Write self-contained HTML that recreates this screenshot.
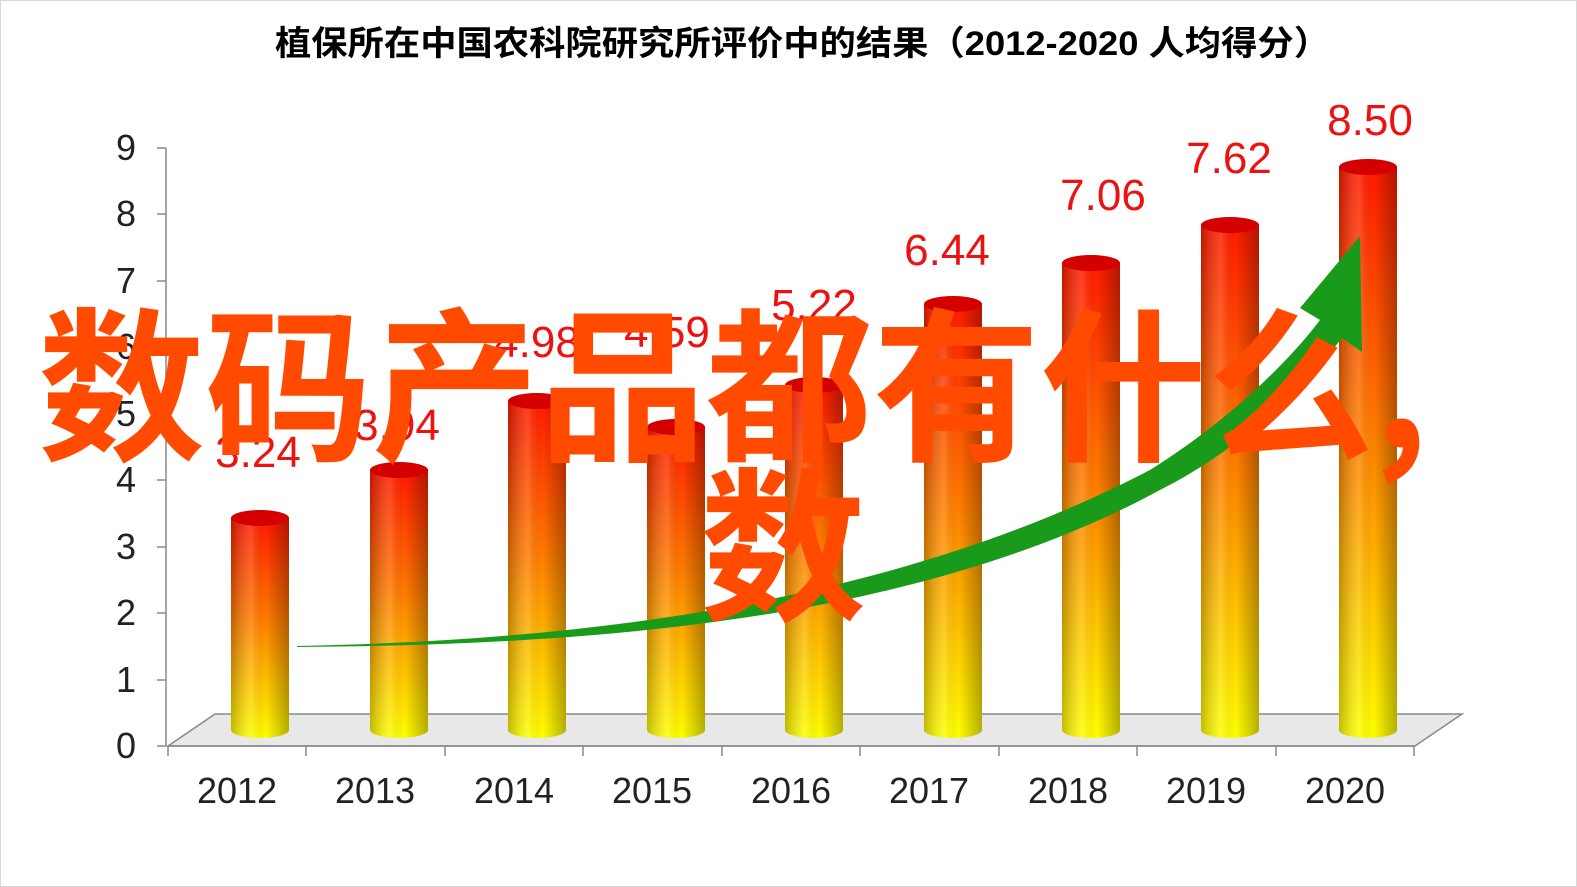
<!DOCTYPE html>
<html><head><meta charset="utf-8"><style>
body{margin:0;background:#fff;}
svg{display:block}
</style></head><body>
<svg width="1577" height="887" viewBox="0 0 1577 887" xmlns="http://www.w3.org/2000/svg">
<defs>
<linearGradient id="v" x1="0" y1="0" x2="0" y2="1">
<stop offset="0" stop-color="#ff1a00"/><stop offset="0.45" stop-color="#ff7a00"/><stop offset="1" stop-color="#ffff00"/>
</linearGradient>
<linearGradient id="h" x1="0" y1="0" x2="1" y2="0">
<stop offset="0" stop-color="#000" stop-opacity="0.25"/><stop offset="0.35" stop-color="#fff" stop-opacity="0.15"/><stop offset="0.6" stop-color="#000" stop-opacity="0"/><stop offset="1" stop-color="#000" stop-opacity="0.3"/>
</linearGradient>
</defs>
<rect x="0.5" y="0.5" width="1576" height="886" fill="#fff" stroke="#d9d9d9"/>
<text x="275" y="55" textLength="1055" lengthAdjust="spacingAndGlyphs" font-family="Liberation Sans, Noto Sans CJK SC, sans-serif" font-size="34" font-weight="bold" fill="#000">植保所在中国农科院研究所评价中的结果（2012-2020  人均得分）</text>
<polygon points="168,746 1415,746 1462,714 215,714" fill="#e8e8e8" stroke="#888" stroke-width="1.5"/>
<line x1="166" y1="148" x2="166" y2="746" stroke="#888" stroke-width="1.5"/>
<g stroke="#888" stroke-width="1.5">
<line x1="157" y1="148" x2="166" y2="148"/><line x1="157" y1="214" x2="166" y2="214"/><line x1="157" y1="281" x2="166" y2="281"/><line x1="157" y1="347" x2="166" y2="347"/><line x1="157" y1="414" x2="166" y2="414"/><line x1="157" y1="480" x2="166" y2="480"/><line x1="157" y1="547" x2="166" y2="547"/><line x1="157" y1="613" x2="166" y2="613"/><line x1="157" y1="680" x2="166" y2="680"/><line x1="157" y1="746" x2="166" y2="746"/>
<line x1="168" y1="746" x2="1415" y2="746"/>
<line x1="168" y1="746" x2="168" y2="756"/><line x1="306" y1="746" x2="306" y2="756"/><line x1="445" y1="746" x2="445" y2="756"/><line x1="583" y1="746" x2="583" y2="756"/><line x1="722" y1="746" x2="722" y2="756"/><line x1="860" y1="746" x2="860" y2="756"/><line x1="999" y1="746" x2="999" y2="756"/><line x1="1137" y1="746" x2="1137" y2="756"/><line x1="1276" y1="746" x2="1276" y2="756"/><line x1="1414" y1="746" x2="1414" y2="756"/>
</g>
<g font-family="Liberation Sans, sans-serif" font-size="36" fill="#222" text-anchor="end">
<text x="136" y="160">9</text><text x="136" y="226">8</text><text x="136" y="293">7</text><text x="136" y="359">6</text><text x="136" y="426">5</text><text x="136" y="492">4</text><text x="136" y="559">3</text><text x="136" y="625">2</text><text x="136" y="692">1</text><text x="136" y="758">0</text>
</g>
<g font-family="Liberation Sans, sans-serif" font-size="36" fill="#222" text-anchor="middle">
<text x="237" y="803">2012</text><text x="375" y="803">2013</text><text x="514" y="803">2014</text><text x="652" y="803">2015</text><text x="791" y="803">2016</text><text x="929" y="803">2017</text><text x="1068" y="803">2018</text><text x="1206" y="803">2019</text><text x="1345" y="803">2020</text>
</g>
<g>
<path d="M231,518 L231,730 A29,8 0 0 0 289,730 L289,518 Z" fill="url(#v)"/><path d="M231,518 L231,730 A29,8 0 0 0 289,730 L289,518 Z" fill="url(#h)"/><ellipse cx="260" cy="518" rx="29" ry="8" fill="#d40000"/>
<path d="M370,470 L370,730 A29,8 0 0 0 428,730 L428,470 Z" fill="url(#v)"/><path d="M370,470 L370,730 A29,8 0 0 0 428,730 L428,470 Z" fill="url(#h)"/><ellipse cx="399" cy="470" rx="29" ry="8" fill="#d40000"/>
<path d="M508,401 L508,730 A29,8 0 0 0 566,730 L566,401 Z" fill="url(#v)"/><path d="M508,401 L508,730 A29,8 0 0 0 566,730 L566,401 Z" fill="url(#h)"/><ellipse cx="537" cy="401" rx="29" ry="8" fill="#d40000"/>
<path d="M647,427 L647,730 A29,8 0 0 0 705,730 L705,427 Z" fill="url(#v)"/><path d="M647,427 L647,730 A29,8 0 0 0 705,730 L705,427 Z" fill="url(#h)"/><ellipse cx="676" cy="427" rx="29" ry="8" fill="#d40000"/>
<path d="M785,385 L785,730 A29,8 0 0 0 843,730 L843,385 Z" fill="url(#v)"/><path d="M785,385 L785,730 A29,8 0 0 0 843,730 L843,385 Z" fill="url(#h)"/><ellipse cx="814" cy="385" rx="29" ry="8" fill="#d40000"/>
<path d="M924,304 L924,730 A29,8 0 0 0 982,730 L982,304 Z" fill="url(#v)"/><path d="M924,304 L924,730 A29,8 0 0 0 982,730 L982,304 Z" fill="url(#h)"/><ellipse cx="953" cy="304" rx="29" ry="8" fill="#d40000"/>
<path d="M1062,263 L1062,730 A29,8 0 0 0 1120,730 L1120,263 Z" fill="url(#v)"/><path d="M1062,263 L1062,730 A29,8 0 0 0 1120,730 L1120,263 Z" fill="url(#h)"/><ellipse cx="1091" cy="263" rx="29" ry="8" fill="#d40000"/>
<path d="M1201,225 L1201,730 A29,8 0 0 0 1259,730 L1259,225 Z" fill="url(#v)"/><path d="M1201,225 L1201,730 A29,8 0 0 0 1259,730 L1259,225 Z" fill="url(#h)"/><ellipse cx="1230" cy="225" rx="29" ry="8" fill="#d40000"/>
<path d="M1339,167 L1339,730 A29,8 0 0 0 1397,730 L1397,167 Z" fill="url(#v)"/><path d="M1339,167 L1339,730 A29,8 0 0 0 1397,730 L1397,167 Z" fill="url(#h)"/><ellipse cx="1368" cy="167" rx="29" ry="8" fill="#d40000"/>
</g>
<g font-family="Liberation Sans, sans-serif" font-size="44" fill="#ee1111" text-anchor="middle">
<text x="258" y="467">3.24</text><text x="397" y="440">3.94</text><text x="537" y="357">4.98</text><text x="667" y="347">4.59</text><text x="814" y="320">5.22</text><text x="947" y="265">6.44</text><text x="1103" y="210">7.06</text><text x="1229" y="173">7.62</text><text x="1370" y="135">8.50</text>
</g>
<path d="M297,646 C600,640 900,600 1150,470 C1230,420 1290,360 1320,320 L1300,308 L1360,236 L1362,352 L1342,338 C1300,390 1240,450 1160,490 C920,620 600,645 297,647 Z" fill="#1a9a1a"/>
<g font-family="Noto Sans CJK SC, WenQuanYi Zen Hei, sans-serif" font-size="166" font-weight="bold" fill="#ff4a00">
<text x="38" y="448" textLength="1390" lengthAdjust="spacingAndGlyphs">数码产品都有什么,</text>
<text x="700" y="608">数</text>
</g>
</svg>
</body></html>
